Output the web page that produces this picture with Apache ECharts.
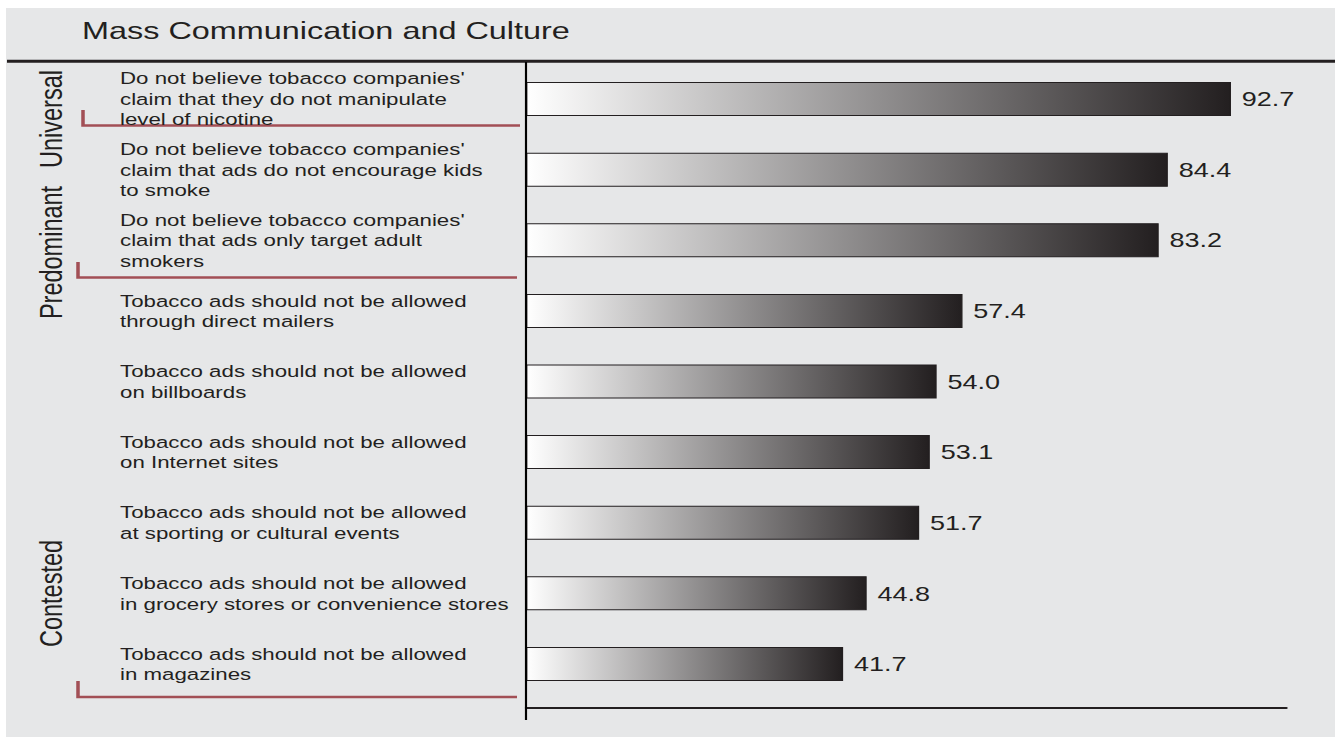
<!DOCTYPE html>
<html>
<head>
<meta charset="utf-8">
<title>Mass Communication and Culture</title>
<script src="https://cdn.jsdelivr.net/npm/echarts@6/dist/echarts.min.js"></script>
<style>
  html, body { margin: 0; padding: 0; background: #ffffff; overflow: hidden; }
  /* the chart is laid out narrow and widened horizontally, giving the extended lettering */
  #chart { width: 989px; height: 743px; transform: scaleX(1.35); transform-origin: 0 0; }
</style>
</head>
<body>
<div id="chart"></div>
<script>
// ---- data ----
const categories = [
  "Do not believe tobacco companies'\nclaim that they do not manipulate\nlevel of nicotine",
  "Do not believe tobacco companies'\nclaim that ads do not encourage kids\nto smoke",
  "Do not believe tobacco companies'\nclaim that ads only target adult\nsmokers",
  "Tobacco ads should not be allowed\nthrough direct mailers",
  "Tobacco ads should not be allowed\non billboards",
  "Tobacco ads should not be allowed\non Internet sites",
  "Tobacco ads should not be allowed\nat sporting or cultural events",
  "Tobacco ads should not be allowed\nin grocery stores or convenience stores",
  "Tobacco ads should not be allowed\nin magazines"
];
const values = [92.7, 84.4, 83.2, 57.4, 54.0, 53.1, 51.7, 44.8, 41.7];
const groupNames = ['Universal', 'Predominant', 'Contested'];
const titleText = 'Mass Communication and Culture';

// ---- layout (page pixels, converted to the narrow drawing space) ----
const SX = 1.35;
const px = v => v / SX;
const INK = '#231f20';
const PANEL = '#e6e7e8';
const BRACKET = '#a24f55';
const FONT = '"Liberation Sans", Arial, Helvetica, sans-serif';

const gridLeft = px(526);
const gridRight = 989 - px(1286.5);
const gridTop = 63.7;
const gridBottom = 743 - 699.3;

// group captions (vertical text) and their bracket strokes
const groupCaptionY = [119, 252.5, 593.5];
const brackets = [
  { x: px(83), y1: 110, y2: 125.5, x2: px(520) },
  { x: px(78), y1: 262, y2: 277.5, x2: px(517) },
  { x: px(78), y1: 681, y2: 697, x2: px(517) }
];

const graphics = [
  { type: 'rect', z: -100, silent: true,
    shape: { x: px(6), y: 8, width: 989 - px(6), height: 729 },
    style: { fill: PANEL } },
  { type: 'line', silent: true,
    shape: { x1: px(7), y1: 61.3, x2: 989, y2: 61.3 },
    style: { stroke: INK, lineWidth: 3 } },
  { type: 'line', silent: true, z: 10,
    shape: { x1: gridLeft, y1: 62, x2: gridLeft, y2: 720 },
    style: { stroke: '#000000', lineWidth: 1.6 } }
];
groupNames.forEach((name, i) => {
  graphics.push({
    type: 'text', silent: true,
    x: px(51), y: groupCaptionY[i], rotation: Math.PI / 2,
    style: {
      text: name, fill: INK, font: '23.5px ' + FONT,
      align: 'center', verticalAlign: 'middle'
    }
  });
});
brackets.forEach(b => {
  graphics.push({
    type: 'polyline', silent: true,
    shape: { points: [[b.x, b.y1], [b.x, b.y2], [b.x2, b.y2]] },
    style: { stroke: BRACKET, lineWidth: 2.6, fill: null, lineJoin: 'miter' }
  });
});

const chart = echarts.init(document.getElementById('chart'), null, { renderer: 'svg' });
chart.setOption({
  animation: false,
  backgroundColor: 'transparent',
  title: {
    text: titleText,
    left: px(82), top: 19, padding: 0,
    textStyle: { fontFamily: FONT, fontSize: 24, fontWeight: 'normal', color: INK }
  },
  grid: { left: gridLeft, right: gridRight, top: gridTop, bottom: gridBottom, containLabel: false },
  xAxis: {
    type: 'value', min: 0, max: 100, offset: 8.7,
    axisLine: { show: true, lineStyle: { color: INK, width: 1.8 } },
    axisTick: { show: false }, axisLabel: { show: false }, splitLine: { show: false }
  },
  yAxis: {
    type: 'category', inverse: true, data: categories,
    axisLine: { show: false }, axisTick: { show: false }, splitLine: { show: false },
    axisLabel: {
      align: 'left', margin: gridLeft - px(120),
      fontFamily: FONT, fontSize: 16.5, lineHeight: 20.5, color: INK
    }
  },
  series: [{
    type: 'bar', data: values, barWidth: 34,
    itemStyle: {
      color: new echarts.graphic.LinearGradient(0, 0, 1, 0, [
        { offset: 0, color: '#ffffff' },
        { offset: 1, color: INK }
      ]),
      borderColor: INK, borderWidth: 1
    },
    label: {
      show: true, position: 'right', distance: 8,
      fontFamily: FONT, fontSize: 20, color: INK,
      formatter: p => p.value.toFixed(1)
    }
  }],
  graphic: graphics
});
</script>
</body>
</html>
